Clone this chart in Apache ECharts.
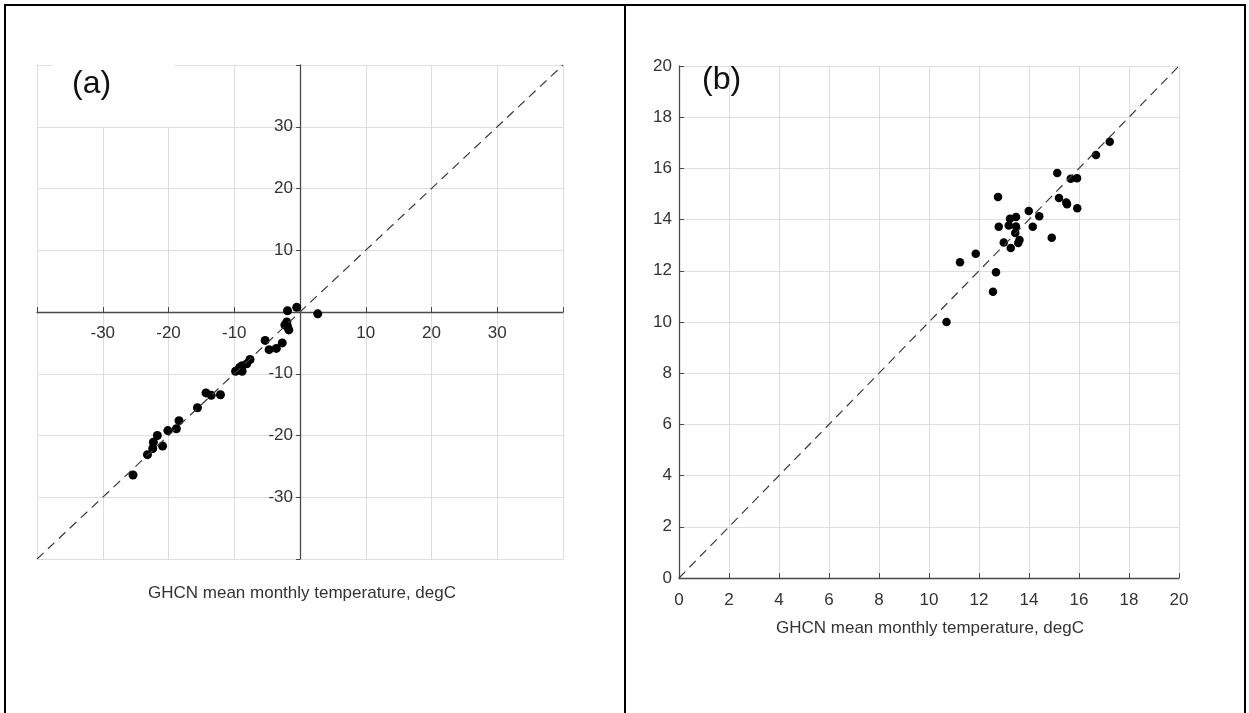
<!DOCTYPE html>
<html lang="en">
<head>
<meta charset="UTF-8">
<title>GHCN vs estimated mean monthly temperature</title>
<script src="https://cdn.jsdelivr.net/npm/echarts@6/dist/echarts.min.js"></script>
<style>
  html, body { margin: 0; padding: 0; background: #fff; }
  #main { width: 1249px; height: 713px; }
  .rule { position: absolute; background: #000; }
</style>
</head>
<body>
<div id="main"></div>
<!-- table borders round the two panels -->
<div class="rule" style="left:4px;top:4px;width:1242px;height:2px"></div>
<div class="rule" style="left:4px;top:4px;width:2px;height:709px"></div>
<div class="rule" style="left:1244px;top:4px;width:2px;height:709px"></div>
<div class="rule" style="left:624px;top:4px;width:2px;height:709px"></div>
<script>
// panel (a): GHCN (x) against estimate (y), degC
var ghcnA = [-1.9, -0.5, 2.7, -2.3, -1.9, -1.7, -2.0, -5.3, -4.7, -3.6, -2.7,
             -7.6, -8.1, -8.8, -8.8, -9.8, -9.2, -14.3, -13.5, -12.1, -15.6,
             -18.4, -18.8, -20.1, -21.7, -22.3, -22.4, -20.9, -23.2, -25.4];
var estA  = [0.2, 0.75, -0.3, -2.1, -2.3, -2.9, -1.6, -4.6, -6.1, -5.9, -5.0,
             -7.7, -8.4, -8.7, -9.6, -9.6, -9.0, -13.1, -13.5, -13.4, -15.5,
             -17.6, -18.9, -19.2, -20.0, -21.1, -22.1, -21.7, -23.1, -26.4];
var ticksA = [-30, -20, -10, 10, 20, 30];
var lineA = [[-40, -40], [40, 40]];

// panel (b)
var ghcnB = [10.7, 11.24, 11.87, 12.56, 12.68, 12.76, 12.79, 12.99, 13.27, 13.19,
             13.24, 13.48, 13.48, 13.45, 13.57, 13.62, 13.99, 14.15, 14.41, 14.91,
             15.13, 15.2, 15.49, 15.52, 15.67, 15.92, 15.93, 16.68, 17.23];
var estB  = [10.0, 12.33, 12.67, 11.18, 11.94, 14.88, 13.72, 13.11, 12.89, 13.77,
             14.03, 14.1, 13.73, 13.48, 13.09, 13.2, 14.34, 13.72, 14.13, 13.29,
             15.82, 14.84, 14.67, 14.6, 15.6, 15.62, 14.44, 16.52, 17.04];
var ticksB = [0, 2, 4, 6, 8, 10, 12, 14, 16, 18, 20];
var lineB = [[0, 0], [20, 20]];

var xTitle = 'GHCN mean monthly temperature, degC';
var font = '"Liberation Sans", Arial, sans-serif';

function pairs(xs, ys) {
  return xs.map(function (x, i) { return [x, ys[i]]; });
}
function onlyTicks(list) {
  return function (v) { return list.indexOf(v) >= 0 ? String(v) : ''; };
}

var gridLine = { show: true, lineStyle: { color: '#dedede', width: 1 } };
var axLine = { show: true, onZero: false, lineStyle: { color: '#4a4a4a', width: 1.3 } };
var lbl = { color: '#333', fontSize: 17, fontFamily: font, hideOverlap: false };

// panel (a) axes cross at the origin: the grid is 80 units square
var gA = { left: 37, top: 65, width: 526, height: 494 };

var myChart = echarts.init(document.getElementById('main'));
myChart.setOption({
  animation: false,
  grid: [
    gA,
    { left: 679, top: 66, width: 500, height: 512 }
  ],
  xAxis: [
    {
      gridIndex: 0, type: 'value', min: -40, max: 40, interval: 10,
      position: 'bottom', offset: -gA.height / 2,
      axisLine: axLine,
      axisTick: { show: true, inside: true, length: 5, lineStyle: { color: '#4a4a4a' } },
      axisLabel: Object.assign({ margin: 13, formatter: onlyTicks(ticksA) }, lbl),
      splitLine: gridLine
    },
    {
      gridIndex: 1, type: 'value', min: 0, max: 20, interval: 2,
      axisLine: axLine,
      axisTick: { show: true, inside: true, length: 5, lineStyle: { color: '#4a4a4a' } },
      axisLabel: Object.assign({ margin: 14, formatter: onlyTicks(ticksB) }, lbl),
      splitLine: gridLine
    }
  ],
  yAxis: [
    {
      gridIndex: 0, type: 'value', min: -40, max: 40, interval: 10,
      position: 'left', offset: -gA.width / 2,
      axisLine: axLine,
      axisTick: { show: true, inside: false, length: 4, lineStyle: { color: '#4a4a4a' } },
      axisLabel: Object.assign({ margin: 7, formatter: onlyTicks(ticksA) }, lbl),
      splitLine: gridLine
    },
    {
      gridIndex: 1, type: 'value', min: 0, max: 20, interval: 2,
      axisLine: axLine,
      axisTick: { show: true, inside: true, length: 5, lineStyle: { color: '#4a4a4a' } },
      axisLabel: Object.assign({ margin: 7, formatter: onlyTicks(ticksB) }, lbl),
      splitLine: gridLine
    }
  ],
  graphic: [
    // white patch behind the (a) tag, as in the source figure
    { type: 'rect', left: 52, top: 57, shape: { width: 122, height: 70 },
      style: { fill: '#fff' }, z: 10 },
    { type: 'text', left: 72, top: 68, z: 11,
      style: { text: '(a)', fontSize: 32, fontFamily: font, fill: '#111' } },
    { type: 'text', left: 702, top: 64, z: 11,
      style: { text: '(b)', fontSize: 32, fontFamily: font, fill: '#111' } },
    { type: 'text', x: 302, y: 593, z: 11,
      style: { text: xTitle, fontSize: 17, fontFamily: font, fill: '#333',
               align: 'center', verticalAlign: 'middle' } },
    { type: 'text', x: 930, y: 628, z: 11,
      style: { text: xTitle, fontSize: 17, fontFamily: font, fill: '#333',
               align: 'center', verticalAlign: 'middle' } }
  ],
  series: [
    {
      type: 'line', xAxisIndex: 0, yAxisIndex: 0, data: lineA,
      symbol: 'none', silent: true,
      lineStyle: { color: '#3a3a3a', width: 1.2, type: [9, 6] }
    },
    {
      type: 'scatter', xAxisIndex: 0, yAxisIndex: 0, data: pairs(ghcnA, estA),
      symbolSize: 9, itemStyle: { color: '#000', opacity: 1 }
    },
    {
      type: 'line', xAxisIndex: 1, yAxisIndex: 1, data: lineB,
      symbol: 'none', silent: true,
      lineStyle: { color: '#3a3a3a', width: 1.2, type: [9, 6] }
    },
    {
      type: 'scatter', xAxisIndex: 1, yAxisIndex: 1, data: pairs(ghcnB, estB),
      symbolSize: 8.5, itemStyle: { color: '#000', opacity: 1 }
    }
  ]
});
</script>
</body>
</html>
